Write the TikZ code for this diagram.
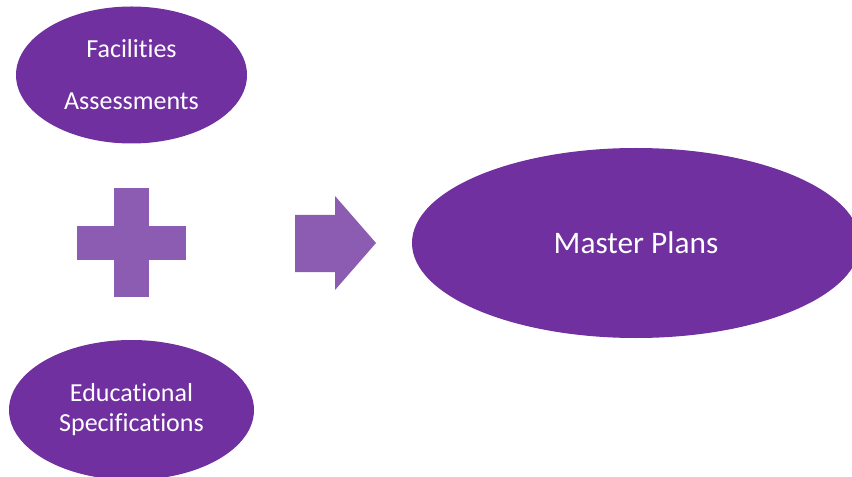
\documentclass[tikz,border=0pt]{standalone}
\usepackage{fontspec}
\setmainfont{Carlito}[Ligatures={NoCommon}]
\usetikzlibrary{shapes.geometric}
\definecolor{plumdark}{RGB}{112,48,160}
\definecolor{plumlight}{RGB}{140,91,178}

\begin{document}
\begin{tikzpicture}[x=0.75pt, y=-0.75pt,
  blob/.style={ellipse, fill=plumdark, text=white, inner sep=0pt, align=center, font=\fontsize{19.5}{22.5}\selectfont},
  sign/.style={fill=plumlight},
]
\useasboundingbox (0,0) rectangle (852,477);

\node[blob, minimum width=173.25pt, minimum height=102.75pt, font=\fontsize{19.5}{39}\selectfont] (facilities) at (131.5,75) {Facilities\\Assessments};
\node[blob, minimum width=183.75pt, minimum height=105pt] (edspecs) at (131.5,410) {Educational\\Specifications};
\node[blob, minimum width=336pt, minimum height=142.5pt, font=\fontsize{23.5}{28}\selectfont] (master) at (636,243) {Master Plans};

% plus sign
\fill[sign] (114,188) rectangle (149,297);
\fill[sign] (77,226) rectangle (186,260);

% arrow
\fill[sign] (295,215) -- (335,215) -- (335,196) -- (376,243) -- (335,290) -- (335,272) -- (295,272) -- cycle;

\end{tikzpicture}
\end{document}
